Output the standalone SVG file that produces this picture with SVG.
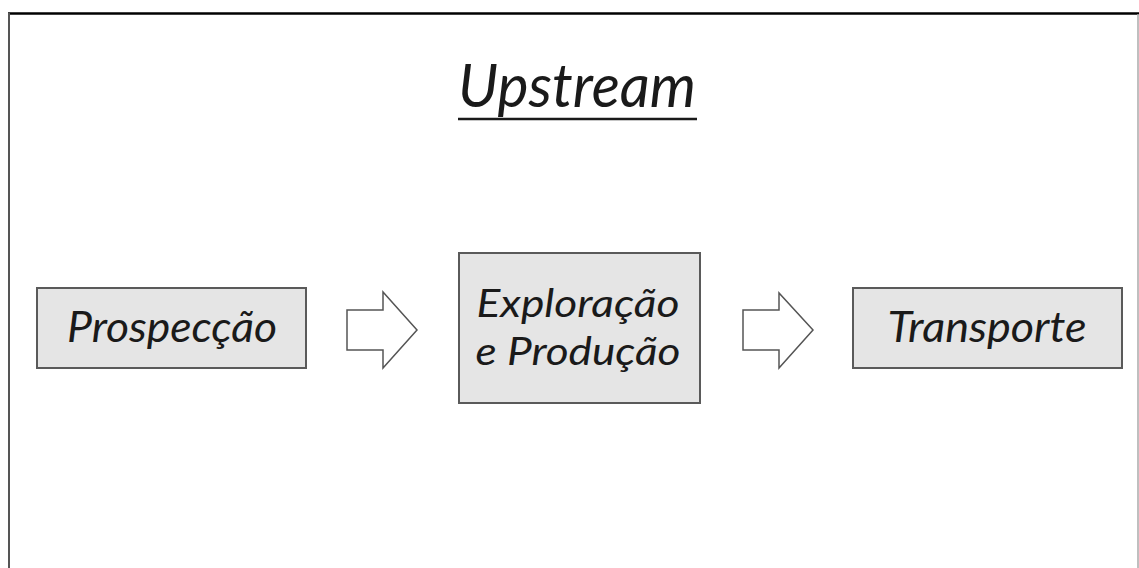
<svg xmlns="http://www.w3.org/2000/svg" width="1139" height="568" viewBox="0 0 1139 568">
<style>
.box{fill:#e5e5e5;stroke:#5a5a5a;stroke-width:2}
.lbl{font-family:Lato,"Open Sans","Liberation Sans",sans-serif;font-style:italic;font-size:42px;fill:#1a1a1a}
.arr{fill:#ffffff;stroke:#555555;stroke-width:1.5;stroke-linejoin:miter}
</style>
<rect x="0" y="0" width="1139" height="568" fill="#ffffff"/>
<g id="frame">
<line x1="8" y1="13.5" x2="1139" y2="13.5" stroke="#000" stroke-width="2.5"/>
<line x1="9" y1="13" x2="9" y2="568" stroke="#555" stroke-width="2"/>
<line x1="1138" y1="14" x2="1138" y2="568" stroke="#aaa" stroke-width="1.5"/>
</g>
<g id="title">
<text x="577" y="107" text-anchor="middle" class="lbl" style="font-size:60px" textLength="238" lengthAdjust="spacingAndGlyphs">Upstream</text>
<line x1="458" y1="119" x2="697" y2="119" stroke="#1a1a1a" stroke-width="2.5"/>
</g>
<g id="prospeccao">
<rect class="box" x="37" y="288" width="269" height="80"/>
<text class="lbl" x="172" y="342" text-anchor="middle" textLength="210" lengthAdjust="spacingAndGlyphs">Prospecção</text>
</g>
<g id="exploracao">
<rect class="box" x="459" y="253" width="241" height="150"/>
<text class="lbl" x="578" y="317" text-anchor="middle" style="font-size:39px" textLength="203" lengthAdjust="spacingAndGlyphs">Exploração</text>
<text class="lbl" x="578" y="365" text-anchor="middle" style="font-size:39px" textLength="205" lengthAdjust="spacingAndGlyphs">e Produção</text>
</g>
<g id="transporte">
<rect class="box" x="853" y="288" width="269" height="80"/>
<text class="lbl" x="987" y="342" text-anchor="middle" textLength="199" lengthAdjust="spacingAndGlyphs">Transporte</text>
</g>
<g id="connectors">
<path class="arr" d="M347,310 H383 V292 L417,330 L383,368 V350 H347 Z"/>
<path class="arr" d="M743,310 H779 V293 L813,330 L779,368 V350 H743 Z"/>
</g>
</svg>
